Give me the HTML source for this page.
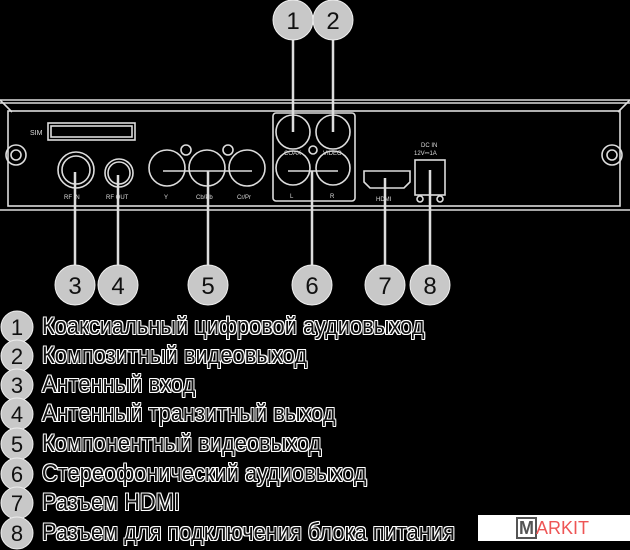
<!DOCTYPE html>
<html><head><meta charset="utf-8"><style>
body{margin:0;background:#000;width:630px;height:550px;overflow:hidden;position:relative;font-family:"Liberation Sans",sans-serif}
svg{position:absolute;left:0;top:0}
.t{position:absolute;left:42px;font-size:24px;line-height:26px;color:#111;white-space:nowrap;transform-origin:0 0;transform:scaleX(0.91);
text-shadow:1px 0 #fff,-1px 0 #fff,0 1px #fff,0 -1px #fff,1px 1px #fff,-1px -1px #fff,1px -1px #fff,-1px 1px #fff}
.logo{position:absolute;left:478px;top:515px;width:152px;height:26px;background:#fff}
</style></head><body>
<svg width="630" height="550" fill="none" stroke="#ddd" stroke-width="1.6">
<line x1="0" y1="100" x2="630" y2="100"/><line x1="0" y1="103" x2="630" y2="103"/>
<line x1="0" y1="210" x2="630" y2="210"/>
<rect x="8" y="111" width="612" height="95"/>
<path d="M0 100 L12 112 M630 100 L618 112"/>
<circle cx="16" cy="155" r="10"/><circle cx="16" cy="155" r="5"/>
<circle cx="612" cy="155" r="10"/><circle cx="612" cy="155" r="5"/>
<rect x="48" y="123" width="87" height="17"/><rect x="51" y="126" width="81" height="11"/>
<text x="30" y="135" font-size="7" fill="#ddd" stroke="none">SIM</text>
<circle cx="76" cy="170" r="18"/><circle cx="76" cy="170" r="14"/>
<circle cx="119" cy="173" r="14"/><circle cx="119" cy="173" r="11"/>
<text x="64" y="199" font-size="6" fill="#ddd" stroke="none">RF IN</text>
<text x="106" y="199" font-size="6" fill="#ddd" stroke="none">RF OUT</text>
<circle cx="167" cy="168" r="18"/><circle cx="207" cy="168" r="18"/><circle cx="247" cy="168" r="18"/>
<circle cx="186" cy="150" r="5"/><circle cx="228" cy="150" r="5"/>
<line x1="163" y1="171" x2="252" y2="171"/>
<text x="164" y="199" font-size="6" fill="#ddd" stroke="none">Y</text>
<text x="196" y="199" font-size="6" fill="#ddd" stroke="none">Cb/Pb</text>
<text x="237" y="199" font-size="6" fill="#ddd" stroke="none">Cr/Pr</text>
<rect x="273" y="113" width="82" height="88" rx="3"/>
<circle cx="293" cy="132" r="17"/><circle cx="333" cy="132" r="17"/>
<circle cx="293" cy="168" r="17"/><circle cx="333" cy="168" r="17"/>
<circle cx="313" cy="150" r="4"/>
<line x1="288" y1="171" x2="338" y2="171"/>
<text x="284" y="155" font-size="6" fill="#ddd" stroke="none">COAX</text>
<text x="323" y="155" font-size="6" fill="#ddd" stroke="none">VIDEO</text>
<text x="290" y="198" font-size="6" fill="#ddd" stroke="none">L</text>
<text x="330" y="198" font-size="6" fill="#ddd" stroke="none">R</text>
<path d="M364 171 H410 V182 L404 188 H370 L364 182 Z"/>
<text x="376" y="201" font-size="6" fill="#ddd" stroke="none">HDMI</text>
<rect x="415" y="160" width="30" height="35"/>
<text x="421" y="147" font-size="6" fill="#ddd" stroke="none">DC IN</text>
<text x="414" y="155" font-size="6" fill="#ddd" stroke="none">12V⎓1A</text>
<circle cx="420" cy="199" r="3"/><circle cx="440" cy="199" r="3"/>
<g stroke-width="2.5">
<line x1="293" y1="40" x2="293" y2="132"/><line x1="333" y1="40" x2="333" y2="132"/>
<line x1="75" y1="172" x2="75" y2="265"/><line x1="118" y1="175" x2="118" y2="265"/>
<line x1="208" y1="171" x2="208" y2="265"/><line x1="312" y1="171" x2="312" y2="265"/>
<line x1="385" y1="178" x2="385" y2="265"/><line x1="430" y1="170" x2="430" y2="265"/>
</g>
<g fill="#c8c8c8" stroke="#eee" stroke-width="1">
<circle cx="293" cy="20" r="20"/><circle cx="333" cy="20" r="20"/>
<circle cx="75" cy="285" r="20"/><circle cx="118" cy="285" r="20"/><circle cx="208" cy="285" r="20"/>
<circle cx="312" cy="285" r="20"/><circle cx="385" cy="285" r="20"/><circle cx="430" cy="285" r="20"/>
<circle cx="17" cy="327" r="16"/><circle cx="17" cy="356" r="16"/><circle cx="17" cy="385" r="16"/><circle cx="17" cy="414" r="16"/>
<circle cx="17" cy="444" r="16"/><circle cx="17" cy="474" r="16"/><circle cx="17" cy="503" r="16"/><circle cx="17" cy="533" r="16"/>
</g>
<g fill="#111" stroke="none" font-size="24" text-anchor="middle" font-family="Liberation Sans">
<text x="293" y="29">1</text><text x="333" y="29">2</text>
<text x="75" y="294">3</text><text x="118" y="294">4</text><text x="208" y="294">5</text>
<text x="312" y="294">6</text><text x="385" y="294">7</text><text x="430" y="294">8</text>
</g>
<g fill="#111" stroke="none" font-size="22" text-anchor="middle" font-family="Liberation Sans">
<text x="17" y="335">1</text><text x="17" y="364">2</text><text x="17" y="393">3</text><text x="17" y="422">4</text>
<text x="17" y="452">5</text><text x="17" y="482">6</text><text x="17" y="511">7</text><text x="17" y="541">8</text>
</g>
</svg>
<div class="t" style="top:314px">Коаксиальный цифровой аудиовыход</div>
<div class="t" style="top:343px">Композитный видеовыход</div>
<div class="t" style="top:372px">Антенный вход</div>
<div class="t" style="top:401px">Антенный транзитный выход</div>
<div class="t" style="top:431px">Компонентный видеовыход</div>
<div class="t" style="top:461px">Стереофонический аудиовыход</div>
<div class="t" style="top:490px">Разъем HDMI</div>
<div class="t" style="top:520px">Разъем для подключения блока питания</div>
<div class="logo"><span style="position:absolute;left:38px;top:2px;border:2px solid #555;color:#555;font-size:18px;line-height:18px;padding:0 1px;font-weight:bold">M</span><span style="position:absolute;left:58px;top:4px;color:#e55;font-size:18px;line-height:18px">ARKIT</span></div>
</body></html>
